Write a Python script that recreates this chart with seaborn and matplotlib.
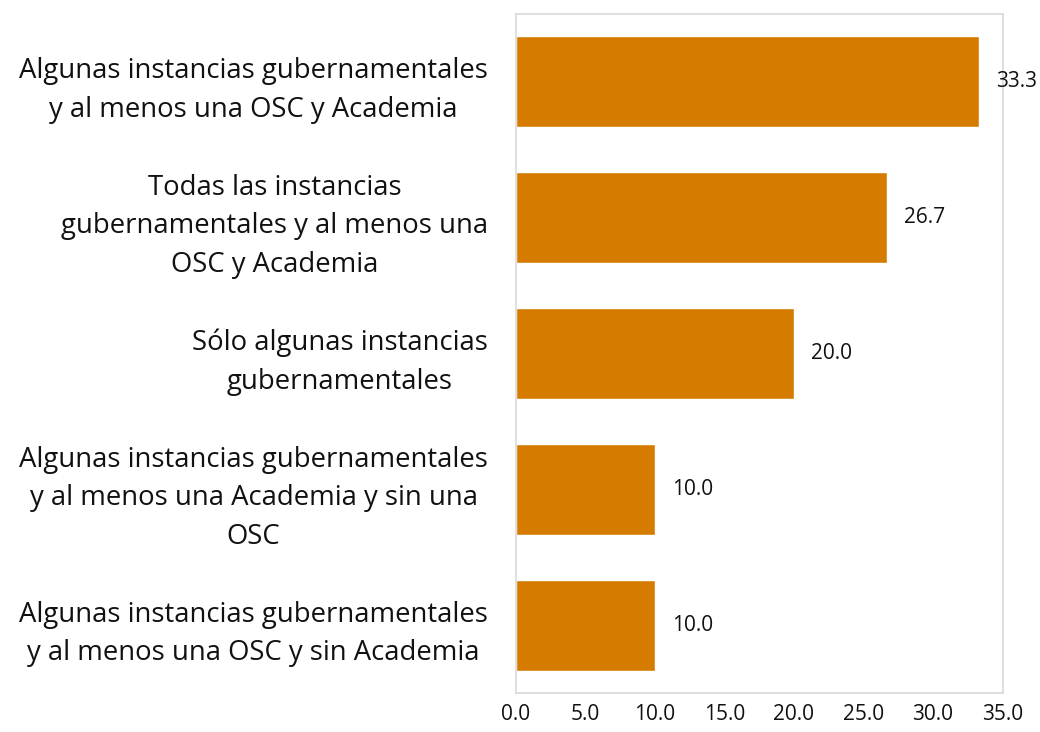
import pandas as pd
import matplotlib.pyplot as plt
import seaborn as sns

# Data
categories = [
    "Algunas instancias gubernamentales\ny al menos una OSC y Academia",
    "Todas las instancias\ngubernamentales y al menos una\nOSC y Academia",
    "Sólo algunas instancias\ngubernamentales",
    "Algunas instancias gubernamentales\ny al menos una Academia y sin una\nOSC",
    "Algunas instancias gubernamentales\ny al menos una OSC y sin Academia",
]
values = [33.3, 26.7, 20.0, 10.0, 10.0]
xticks = [0, 5, 10, 15, 20, 25, 30, 35]

df = pd.DataFrame({"categoria": categories, "porcentaje": values})

sns.set_style("white")
plt.rcParams["font.family"] = ["Open Sans", "DejaVu Sans"]

fig = plt.figure(figsize=(10.4, 7.32), dpi=100)
ax = fig.add_axes([0.496, 0.053, 0.468, 0.928])

sns.barplot(data=df, x="porcentaje", y="categoria", orient="h",
            color="#D57C00", width=0.67, saturation=1, ax=ax)

# value labels at the bar ends
for i, v in enumerate(values):
    ax.annotate(f"{v:.1f}", xy=(v, i), xytext=(12, 0), textcoords="offset points",
                va="center", ha="left", fontsize=15, color="#111111",
                annotation_clip=False)

ax.set_xlim(0, 35)
ax.set_ylim(4.5, -0.5)
ax.set_xticks(xticks)
ax.set_xticklabels([f"{t:.1f}" for t in xticks], fontsize=15, color="#111111")
ax.tick_params(axis="x", length=0, pad=8)
ax.tick_params(axis="y", length=0, pad=20)
for lbl in ax.get_yticklabels():
    lbl.set_multialignment("center")
    lbl.set_fontsize(19.8)
    lbl.set_linespacing(1.5)
    lbl.set_color("#111111")
ax.set_xlabel("")
ax.set_ylabel("")
for s in ax.spines.values():
    s.set_color("#D9D9D9")
    s.set_linewidth(1.2)

plt.savefig("out.png", dpi=100)
